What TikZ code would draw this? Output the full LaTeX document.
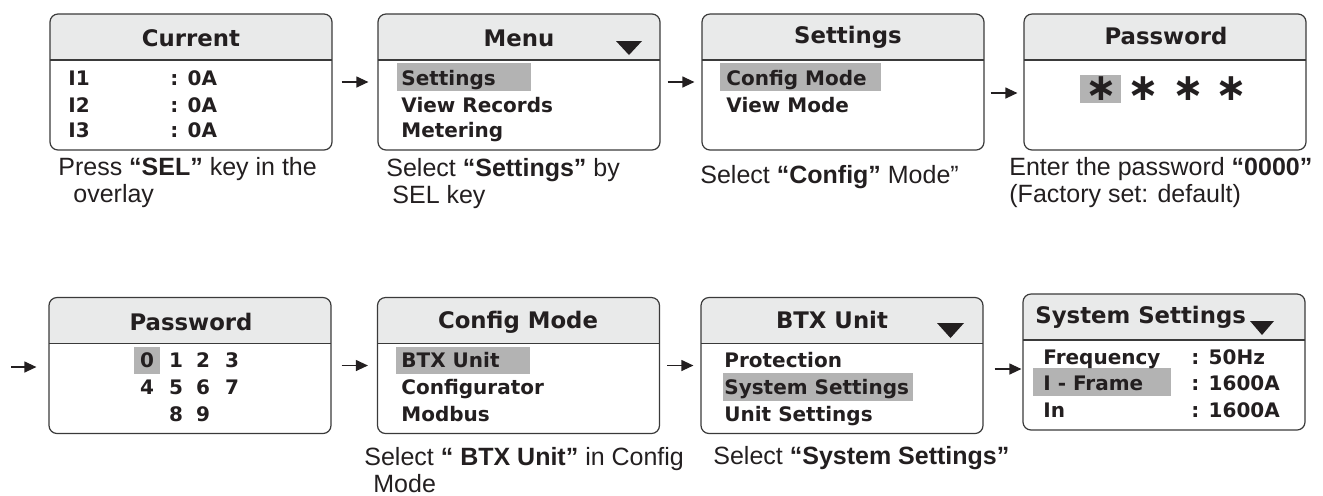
\documentclass[tikz,border=0pt]{standalone}
\usepackage{fontspec}
\setmainfont{Liberation Sans}
\newfontfamily\lcdfont{DejaVu Sans}
\usepackage{tikz}
\usetikzlibrary{arrows.meta, positioning, calc}
\usepackage{xcolor}
\definecolor{lcdframe}{HTML}{3A3A3A}
\definecolor{headfill}{HTML}{E9EAEA}
\definecolor{selgray}{HTML}{B3B3B3}
\definecolor{ink}{HTML}{231F20}

\tikzset{
  screen/.style={draw=lcdframe, line width=0.6pt, rounded corners=4pt, minimum width=141pt, minimum height=68pt, inner sep=0pt,
    path picture={
      \fill[headfill, sharp corners] (path picture bounding box.north west) rectangle ([yshift=-23pt]path picture bounding box.north east);
      \draw[lcdframe, line width=0.6pt, sharp corners] ([yshift=-23pt]path picture bounding box.north west) -- ([yshift=-23pt]path picture bounding box.north east);
    }},
  screentitle/.style={font=\lcdfont\bfseries\fontsize{11.4}{13}\selectfont, text=ink, inner sep=0pt, anchor=base},
  lcdtext/.style={font=\lcdfont\bfseries\fontsize{10}{12}\selectfont, text=ink, inner sep=0pt, anchor=base west},
  pwchar/.style={font=\lcdfont\bfseries\fontsize{19}{19}\selectfont, text=ink, inner sep=0pt},
  note/.style={font=\fontsize{12.5}{13.5}\selectfont, text=ink, align=left, inner sep=0pt, anchor=base west},
  flow/.style={draw=ink, line width=0.6pt, -{Triangle[length=6pt, width=5.5pt]}},
}

\begin{document}
\begin{tikzpicture}[x=0.5pt, y=-0.5pt]
  \useasboundingbox (0,0) rectangle (1323,495);

  % screens, top row
  \node[screen] (cur) at (191,82) {};
  \node[screen] (menu) at (519,82) {};
  \node[screen] (set) at (843,82) {};
  \node[screen] (pwd) at (1165,82) {};
  % screens, bottom row
  \node[screen] (pin) at (190,365.5) {};
  \node[screen] (cfg) at (518.5,365.5) {};
  \node[screen] (btx) at (842,365.5) {};
  \node[screen] (sys) at (1164,362) {};

  % selection bars
  \fill[selgray] (397,63) rectangle (531,91);
  \fill[selgray] (720,63) rectangle (881,91);
  \fill[selgray] (1080,75) rectangle (1121,103);
  \fill[selgray] (134,347) rectangle (160,374);
  \fill[selgray] (396,347) rectangle (530,374);
  \fill[selgray] (723,373) rectangle (913,401);
  \fill[selgray] (1033,368) rectangle (1171,396);

  % scroll marks
  \fill[ink] (616,41) -- (642,41) -- (629,55) -- cycle;
  \fill[ink] (937,323) -- (964,323) -- (950.5,338) -- cycle;
  \fill[ink] (1250,321) -- (1274,321) -- (1262,335) -- cycle;

  % titles
  \node[screentitle] (curT) at (191,46) {Current};
  \node[screentitle] (menuT) at (519,46) {Menu};
  \node[screentitle] (setT) at (848,43) {Settings};
  \node[screentitle] (pwdT) at (1166,44) {Password};
  \node[screentitle] (pinT) at (191,330) {Password};
  \node[screentitle] (cfgT) at (518,328) {Config Mode};
  \node[screentitle] (btxT) at (832,328) {BTX Unit};
  \node[screentitle, anchor=base west] (sysT) at (1035,323) {System Settings};

  % Current
  \node[lcdtext] (i1) at (68,85) {I1};
  \node[lcdtext] (i2) at (68,112) {I2};
  \node[lcdtext] (i3) at (68,137) {I3};
  \node[lcdtext] (i1v) at (170,85) {: 0A};
  \node[lcdtext] (i2v) at (170,112) {: 0A};
  \node[lcdtext] (i3v) at (170,137) {: 0A};
  % Menu
  \node[lcdtext] (m1) at (401,85) {Settings};
  \node[lcdtext] (m2) at (401,112) {View Records};
  \node[lcdtext] (m3) at (401,137) {Metering};
  % Settings
  \node[lcdtext] (st1) at (726,85) {Config Mode};
  \node[lcdtext] (st2) at (726,112) {View Mode};
  % Password (hidden)
  \foreach \i/\x in {1/1101, 2/1143, 3/1188, 4/1231}
    \node[pwchar] (ast\i) at (\x,89) {∗};
  % Password (digits)
  \foreach \d/\x/\y in {0/147/367, 1/176/367, 2/203/367, 3/232/367, 4/147/394, 5/176/394, 6/203/394, 7/232/394, 8/176/421, 9/203/421}
    \node[lcdtext, anchor=base] (dig\d) at (\x,\y) {\d};
  % Config Mode
  \node[lcdtext] (c1) at (401,367) {BTX Unit};
  \node[lcdtext] (c2) at (401,394) {Configurator};
  \node[lcdtext] (c3) at (401,421) {Modbus};
  % BTX Unit
  \node[lcdtext] (b1) at (724,367) {Protection};
  \node[lcdtext] (b2) at (724,394) {System Settings};
  \node[lcdtext] (b3) at (724,421) {Unit Settings};
  % System Settings
  \node[lcdtext] (f1) at (1043,364) {Frequency};
  \node[lcdtext] (f2) at (1043,390) {I - Frame};
  \node[lcdtext] (f3) at (1043,417) {In};
  \node[lcdtext] (f1v) at (1191,364) {: 50Hz};
  \node[lcdtext] (f2v) at (1191,390) {: 1600A};
  \node[lcdtext] (f3v) at (1191,417) {: 1600A};

  % captions (base = last line)
  \node[note] (n1) at (58,202) {Press \textbf{“SEL”} key in the\\\hspace*{7.5pt}overlay};
  \node[note] (n2) at (386,203) {Select \textbf{“Settings”} by\\\hspace*{3pt}SEL key};
  \node[note] (n3) at (700,183) {Select \textbf{“Config”} Mode”};
  \node[note] (n4) at (1009,202) {Enter the password \textbf{“0000”}\\(Factory set: default)};
  \node[note] (n6) at (364,492) {Select \textbf{“ BTX Unit”} in Config\\\hspace*{4.5pt}Mode};
  \node[note] (n7) at (713,464) {Select \textbf{“System Settings”}};

  % arrows
  \draw[flow, shorten <=4.5pt, shorten >=4.5pt] (cur.east) -- (menu.west);
  \draw[flow, shorten <=3.5pt, shorten >=3.5pt] (menu.east) -- (set.west);
  \draw[flow, shorten <=3pt, shorten >=3pt] ([yshift=-5.5pt]set.east) -- ([yshift=-5.5pt]pwd.west);
  \coordinate (start) at (11,367);
  \draw[flow, shorten >=6pt] (start) -- (start -| pin.west);
  \draw[flow, shorten <=5pt, shorten >=4.5pt] (pin.east) -- (cfg.west);
  \draw[flow, shorten <=3.5pt, shorten >=3.5pt] (cfg.east) -- (btx.west);
  \draw[flow, shorten <=5.5pt, shorten >=0.5pt] ([yshift=-1.75pt]btx.east) -- ([yshift=-1.75pt]btx.east -| sys.west);
\end{tikzpicture}
\end{document}
